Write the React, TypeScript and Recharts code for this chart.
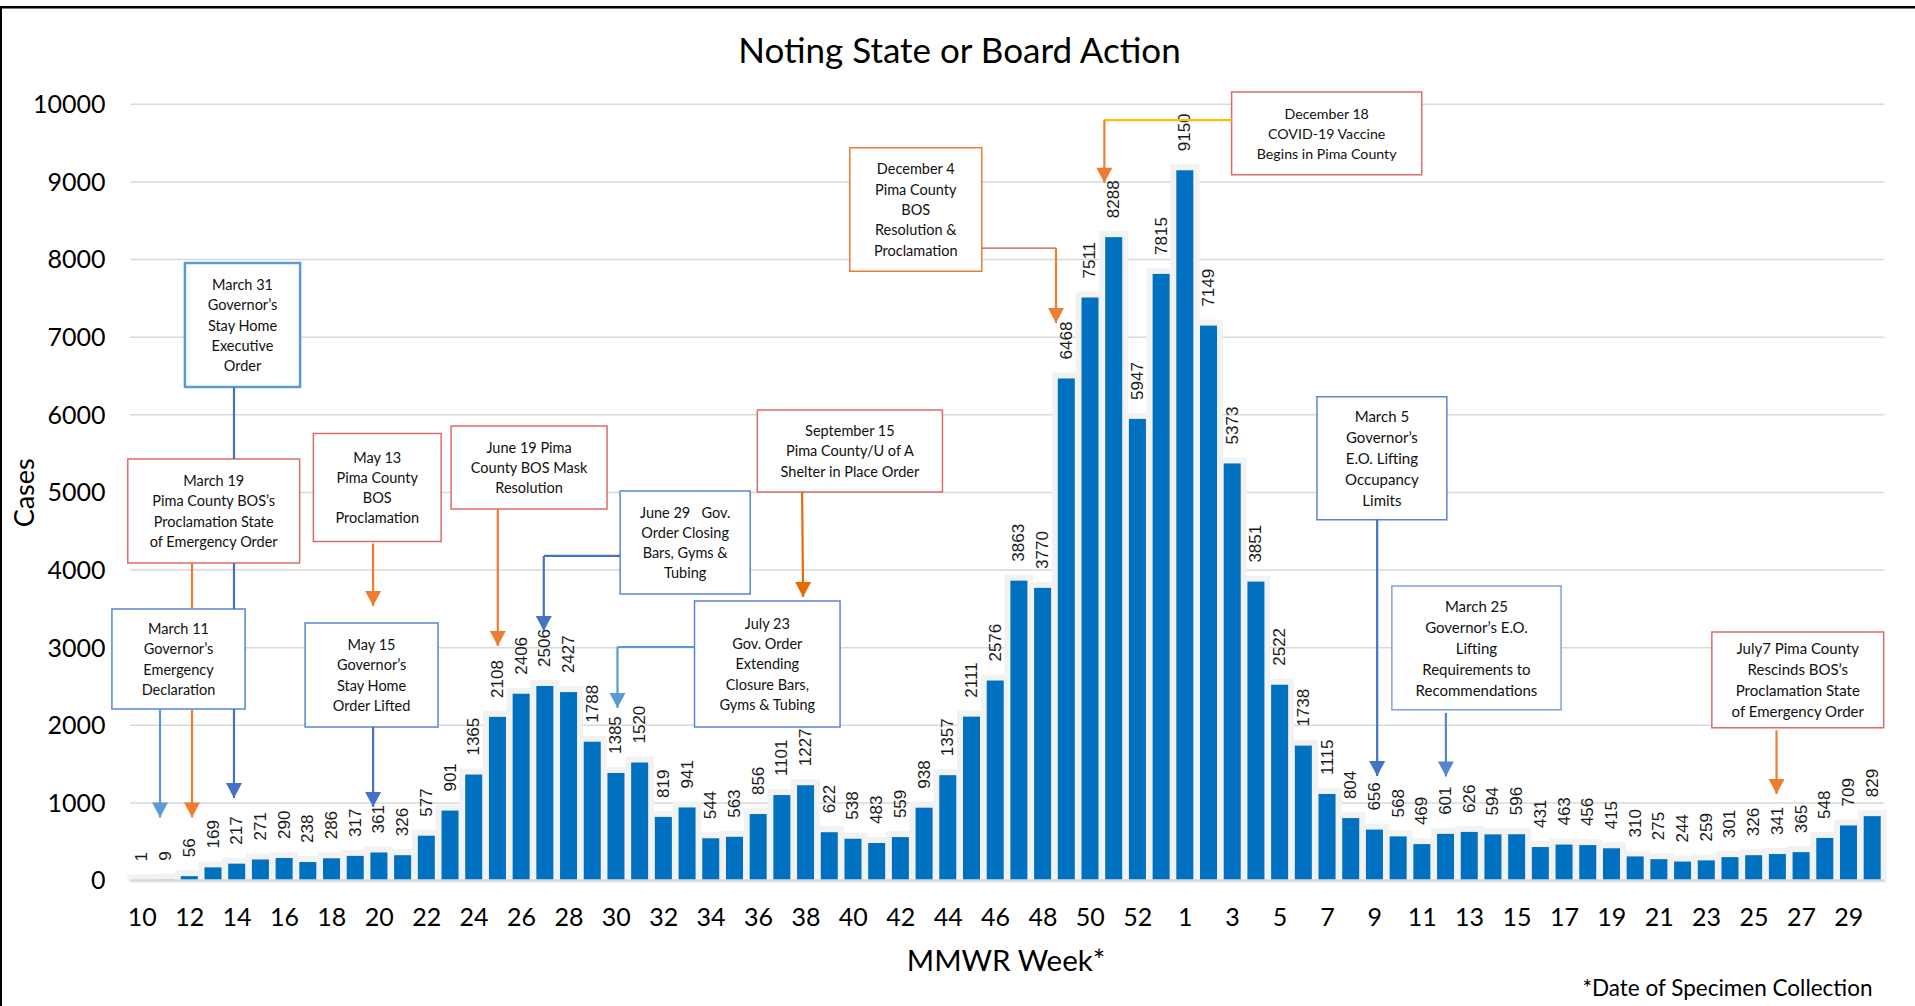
import React from 'react';
import {
  ComposedChart,
  Bar,
  XAxis,
  YAxis,
  CartesianGrid,
  ReferenceArea,
  ReferenceLine,
  ReferenceDot,
} from 'recharts';

// ---------- data ----------
const weekLabels = [
  '10', '11', '12', '13', '14', '15', '16', '17', '18', '19',
  '20', '21', '22', '23', '24', '25', '26', '27', '28', '29',
  '30', '31', '32', '33', '34', '35', '36', '37', '38', '39',
  '40', '41', '42', '43', '44', '45', '46', '47', '48', '49',
  '50', '51', '52', '53',
  '1', '2', '3', '4', '5', '6', '7', '8', '9', '10',
  '11', '12', '13', '14', '15', '16', '17', '18', '19', '20',
  '21', '22', '23', '24', '25', '26', '27', '28', '29', '30',
];

const cases = [
  1, 9, 56, 169, 217, 271, 290, 238, 286, 317,
  361, 326, 577, 901, 1365, 2108, 2406, 2506, 2427, 1788,
  1385, 1520, 819, 941, 544, 563, 856, 1101, 1227, 622,
  538, 483, 559, 938, 1357, 2111, 2576, 3863, 3770, 6468,
  7511, 8288, 5947, 7815,
  9150, 7149, 5373, 3851, 2522, 1738, 1115, 804, 656, 568,
  469, 601, 626, 594, 596, 431, 463, 456, 415, 310,
  275, 244, 259, 301, 326, 341, 365, 548, 709, 829,
];

const yTicks = [0, 1000, 2000, 3000, 4000, 5000, 6000, 7000, 8000, 9000, 10000];

const data = cases.map((c, i) => ({ idx: i, week: weekLabels[i], cases: c }));

// ---------- styles ----------
const FONT = 'Lato, "Open Sans", sans-serif';
const LABEL_FONT = '"Liberation Sans", Arial, sans-serif';
const BAR_BLUE = '#0070C0';
const HALO = '#F2F2F2';
const GRID = '#D9D9D9';
const ORANGE = '#ED7D31';
const ORANGE_DARK = '#E36C09';
const RED_BOX = '#DE6B6B';
const BLUE_LIGHT = '#5B9BD5';
const BLUE_MID = '#4472C4';
const BLUE_BOX = '#5A87CF';
const YELLOW = '#FFC000';
const RED_LINE = '#C0504D';

// ---------- annotations (positions in chart data units: x = bar index, y = cases) ----------
type Seg = { from: [number, number]; to: [number, number]; color: string; width?: number };
type Note = {
  lines: string[];
  box: [number, number, number, number];
  border: string;
  borderWidth: number;
  fontSize: number;
  segs: Seg[];
  tip: [number, number];
  tipColor: string;
};

const notes: Note[] = [
  {
    lines: ['March 31', 'Governor’s', 'Stay Home', 'Executive', 'Order'],
    box: [1.8, 6.66, 6358, 7955], border: BLUE_LIGHT, borderWidth: 2.5, fontSize: 14.5,
    segs: [
      { from: [3.87, 6358], to: [3.87, 5430], color: BLUE_MID },
      { from: [3.87, 4090], to: [3.87, 3498], color: BLUE_MID },
      { from: [3.87, 2209], to: [3.87, 1063], color: BLUE_MID },
    ],
    tip: [3.87, 1063], tipColor: BLUE_MID,
  },
  {
    lines: ['March 19', 'Pima County BOS’s', 'Proclamation State', 'of Emergency Order'],
    box: [-0.61, 6.64, 4090, 5430], border: RED_BOX, borderWidth: 1.5, fontSize: 14.5,
    segs: [
      { from: [2.1, 4090], to: [2.1, 3498], color: ORANGE },
      { from: [2.1, 2209], to: [2.1, 812], color: ORANGE },
    ],
    tip: [2.1, 812], tipColor: ORANGE,
  },
  {
    lines: ['March 11', 'Governor’s', 'Emergency', 'Declaration'],
    box: [-1.28, 4.34, 2209, 3498], border: BLUE_BOX, borderWidth: 1.5, fontSize: 14.5,
    segs: [{ from: [0.75, 2209], to: [0.75, 812], color: BLUE_LIGHT }],
    tip: [0.75, 812], tipColor: BLUE_LIGHT,
  },
  {
    lines: ['May 13', 'Pima County', 'BOS', 'Proclamation'],
    box: [7.22, 12.61, 4367, 5758], border: RED_BOX, borderWidth: 1.5, fontSize: 14.5,
    segs: [{ from: [9.74, 4340], to: [9.74, 3536], color: ORANGE }],
    tip: [9.74, 3536], tipColor: ORANGE,
  },
  {
    lines: ['May 15', 'Governor’s', 'Stay Home', 'Order Lifted'],
    box: [6.87, 12.48, 1978, 3317], border: BLUE_BOX, borderWidth: 1.5, fontSize: 14.5,
    segs: [{ from: [9.74, 1978], to: [9.74, 947], color: BLUE_MID }],
    tip: [9.74, 947], tipColor: BLUE_MID,
  },
  {
    lines: ['June 19 Pima', 'County BOS Mask', 'Resolution'],
    box: [13.03, 19.61, 4786, 5855], border: RED_BOX, borderWidth: 1.5, fontSize: 14.5,
    segs: [{ from: [15.0, 4786], to: [15.0, 3021], color: ORANGE }],
    tip: [15.0, 3021], tipColor: ORANGE,
  },
  {
    lines: ['June 29   Gov.', 'Order Closing', 'Bars, Gyms &', 'Tubing'],
    box: [20.16, 25.65, 3691, 5018], border: BLUE_BOX, borderWidth: 1.5, fontSize: 14.5,
    segs: [
      { from: [20.16, 4181], to: [16.94, 4181], color: BLUE_MID },
      { from: [16.94, 4181], to: [16.94, 3214], color: BLUE_MID },
    ],
    tip: [16.94, 3214], tipColor: BLUE_MID,
  },
  {
    lines: ['July 23', 'Gov. Order', 'Extending', 'Closure Bars,', 'Gyms & Tubing'],
    box: [23.3, 29.44, 1978, 3601], border: BLUE_BOX, borderWidth: 1.5, fontSize: 14.5,
    segs: [
      { from: [23.3, 3008], to: [20.05, 3008], color: BLUE_LIGHT },
      { from: [20.05, 3008], to: [20.05, 2222], color: BLUE_LIGHT },
    ],
    tip: [20.05, 2222], tipColor: BLUE_LIGHT,
  },
  {
    lines: ['September 15', 'Pima County/U of A', 'Shelter in Place Order'],
    box: [25.95, 33.76, 5005, 6062], border: RED_BOX, borderWidth: 1.5, fontSize: 14.5,
    segs: [{ from: [27.84, 5005], to: [27.88, 3652], color: ORANGE_DARK }],
    tip: [27.88, 3652], tipColor: ORANGE_DARK,
  },
  {
    lines: ['December 4', 'Pima County', 'BOS', 'Resolution &', 'Proclamation'],
    box: [29.85, 35.42, 7848, 9441], border: ORANGE, borderWidth: 1.5, fontSize: 14.5,
    segs: [
      { from: [35.42, 8148], to: [38.55, 8148], color: RED_LINE, width: 1.2 },
      { from: [38.55, 8148], to: [38.55, 7182], color: ORANGE },
    ],
    tip: [38.55, 7182], tipColor: ORANGE,
  },
  {
    lines: ['December 18', 'COVID-19 Vaccine', 'Begins in Pima County'],
    box: [45.96, 53.98, 9092, 10159], border: RED_BOX, borderWidth: 1.5, fontSize: 14.2,
    segs: [
      { from: [45.96, 9795], to: [40.59, 9795], color: YELLOW },
      { from: [40.59, 9795], to: [40.59, 8990], color: ORANGE },
    ],
    tip: [40.59, 8990], tipColor: ORANGE,
  },
  {
    lines: ['March 5', 'Governor’s', 'E.O. Lifting', 'Occupancy', 'Limits'],
    box: [49.56, 55.04, 4648, 6232], border: BLUE_BOX, borderWidth: 1.5, fontSize: 15,
    segs: [{ from: [52.1, 4648], to: [52.1, 1346], color: BLUE_MID }],
    tip: [52.1, 1346], tipColor: BLUE_MID,
  },
  {
    lines: ['March 25', 'Governor’s E.O.', 'Lifting', 'Requirements to', 'Recommendations'],
    box: [52.72, 59.86, 2200, 3794], border: '#7FA3DA', borderWidth: 1.5, fontSize: 15,
    segs: [{ from: [55.0, 2160], to: [55.0, 1341], color: '#5585CC' }],
    tip: [55.0, 1341], tipColor: '#5585CC',
  },
  {
    lines: ['July7 Pima County', 'Rescinds BOS’s', 'Proclamation State', 'of Emergency Order'],
    box: [66.22, 73.47, 1969, 3202], border: RED_BOX, borderWidth: 1.5, fontSize: 15,
    segs: [{ from: [68.95, 1935], to: [68.95, 1114], color: ORANGE }],
    tip: [68.95, 1114], tipColor: ORANGE,
  },
];

// ---------- shapes ----------
const BarShape = (props: any) => {
  const { x, y, width, height, payload } = props;
  const bx = Number(x);
  const by = Number(y);
  const bw = Number(width);
  const bh = Math.max(0, Number(height));
  const cx = bx + bw / 2;
  const ly = by - 19;
  return (
    <g>
      <rect x={bx - 6} y={by - 6} width={bw + 12} height={bh + 8.5} fill={HALO} />
      <rect x={bx} y={by} width={bw} height={bh} fill={BAR_BLUE} />
      <text
        x={cx}
        y={ly}
        transform={`rotate(-90 ${cx} ${ly})`}
        textAnchor="start"
        dominantBaseline="central"
        fontFamily={LABEL_FONT}
        fontSize={17}
        fill="#1a1a1a"
      >
        {payload.cases}
      </text>
    </g>
  );
};

const Arrowhead = (color: string) => (props: any) => {
  const cx = Number(props.cx);
  const cy = Number(props.cy);
  return (
    <path d={`M ${cx - 8} ${cy - 15} L ${cx + 8} ${cy - 15} L ${cx} ${cy} Z`} fill={color} stroke="none" />
  );
};

const BoxText = (lines: string[], fontSize: number) => (props: any) => {
  const cx = Number(props.cx);
  const cy = Number(props.cy);
  const lh = fontSize * 1.4;
  const first = cy - ((lines.length - 1) / 2) * lh;
  return (
    <text
      textAnchor="middle"
      fontFamily={FONT}
      fontSize={fontSize}
      fill="#111"
      style={{ whiteSpace: 'pre' }}
    >
      {lines.map((l, i) => (
        <tspan key={i} x={cx} y={first + i * lh} dominantBaseline="central">
          {l}
        </tspan>
      ))}
    </text>
  );
};

export default function App() {
  return (
    <div style={{ position: 'absolute', left: 0, top: 0, width: 1915, height: 1006, background: '#fff' }}>
      <ComposedChart
        width={1915}
        height={1006}
        data={data}
        margin={{ top: 104.3, right: 30.6, bottom: 0, left: 0 }}
      >
        <CartesianGrid vertical={false} stroke={GRID} strokeWidth={1.5} />
        <XAxis
          dataKey="idx"
          type="category"
          interval={1}
          tickFormatter={(v: any) => weekLabels[Number(v)]}
          tickLine={false}
          tickSize={0}
          tickMargin={28}
          height={125.5}
          axisLine={{ stroke: GRID, strokeWidth: 2.5 }}
          tick={{ fill: '#000', fontSize: 25, fontFamily: FONT }}
        />
        <XAxis xAxisId="n" type="number" dataKey="idx" domain={[-0.5, 73.5]} allowDataOverflow hide />
        <YAxis
          domain={[0, 10000]}
          ticks={yTicks}
          interval={0}
          width={130.4}
          tickSize={0}
          tickMargin={25}
          axisLine={false}
          tickLine={false}
          tick={{ fill: '#000', fontSize: 25, fontFamily: FONT }}
        />
        <Bar dataKey="cases" barSize={17} isAnimationActive={false} shape={BarShape} />
        {notes.map((n, i) => (
          <ReferenceArea
            key={`box-${i}`}
            xAxisId="n"
            x1={n.box[0]}
            x2={n.box[1]}
            y1={n.box[2]}
            y2={n.box[3]}
            fill="#ffffff"
            fillOpacity={1}
            stroke={n.border}
            strokeWidth={n.borderWidth}
            ifOverflow="visible"
          />
        ))}
        {notes.flatMap((n, i) =>
          n.segs.map((s, j) => (
            <ReferenceLine
              key={`seg-${i}-${j}`}
              xAxisId="n"
              segment={[
                { x: s.from[0], y: s.from[1] },
                { x: s.to[0], y: s.to[1] },
              ]}
              stroke={s.color}
              strokeWidth={s.width ?? 2.2}
              ifOverflow="visible"
            />
          ))
        )}
        {notes.map((n, i) => (
          <ReferenceDot
            key={`tip-${i}`}
            xAxisId="n"
            x={n.tip[0]}
            y={n.tip[1]}
            r={1}
            ifOverflow="visible"
            shape={Arrowhead(n.tipColor)}
          />
        ))}
        {notes.map((n, i) => (
          <ReferenceDot
            key={`txt-${i}`}
            xAxisId="n"
            x={(n.box[0] + n.box[1]) / 2}
            y={(n.box[2] + n.box[3]) / 2}
            r={1}
            ifOverflow="visible"
            shape={BoxText(n.lines, n.fontSize)}
          />
        ))}
      </ComposedChart>
      <svg
        width={1915}
        height={1006}
        style={{ position: 'absolute', left: 0, top: 0, pointerEvents: 'none' }}
      >
        <line x1={0} y1={7.3} x2={1915} y2={7.3} stroke="#000" strokeWidth={2.5} />
        <line x1={1} y1={6} x2={1} y2={1006} stroke="#000" strokeWidth={2} />
        <text x={959.5} y={63.3} textAnchor="middle" fontFamily={FONT} fontSize={35} fill="#000">
          Noting State or Board Action
        </text>
        <text
          x={23.7}
          y={492.8}
          transform="rotate(-90 23.7 492.8)"
          textAnchor="middle"
          dominantBaseline="central"
          fontFamily={FONT}
          fontSize={27}
          fill="#000"
        >
          Cases
        </text>
        <text x={1006} y={971} textAnchor="middle" fontFamily={FONT} fontSize={29.5} fill="#000">
          MMWR Week*
        </text>
        <text x={1872.5} y={995.6} textAnchor="end" fontFamily={FONT} fontSize={22.5} fill="#000">
          *Date of Specimen Collection
        </text>
      </svg>
    </div>
  );
}
